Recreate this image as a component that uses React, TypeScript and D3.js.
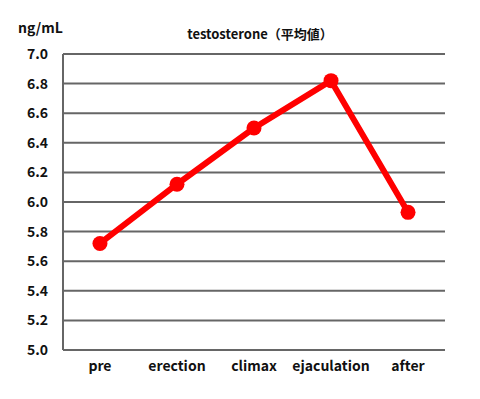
import React, { useEffect, useRef } from "react";
import * as d3 from "d3";

const categories = ["pre", "erection", "climax", "ejaculation", "after"];
const values = [5.72, 6.12, 6.5, 6.82, 5.93];
const yTicks = [5.0, 5.2, 5.4, 5.6, 5.8, 6.0, 6.2, 6.4, 6.6, 6.8, 7.0];

const width = 480;
const height = 399;
const margin = { top: 54, right: 35, bottom: 49, left: 63 };
const font = "'Noto Sans CJK JP', 'Noto Sans', sans-serif";

const App = () => {
  const svgRef = useRef<SVGSVGElement>(null);

  useEffect(() => {
    const svg = d3.select(svgRef.current);
    svg.selectAll("*").remove();

    const x = d3
      .scalePoint()
      .domain(categories)
      .range([margin.left, width - margin.right])
      .padding(0.48);

    const y = d3
      .scaleLinear()
      .domain([5.0, 7.0])
      .range([height - margin.bottom, margin.top]);

    // grid lines
    svg
      .selectAll(".grid")
      .data(yTicks)
      .join("line")
      .attr("x1", margin.left)
      .attr("x2", width - margin.right)
      .attr("y1", (d) => y(d))
      .attr("y2", (d) => y(d))
      .attr("stroke", "#666")
      .attr("stroke-width", 2);

    // left axis
    svg
      .append("line")
      .attr("x1", margin.left)
      .attr("x2", margin.left)
      .attr("y1", y(7.0))
      .attr("y2", y(5.0))
      .attr("stroke", "#666")
      .attr("stroke-width", 2);

    // y labels
    svg
      .selectAll(".ylab")
      .data(yTicks)
      .join("text")
      .attr("x", 48)
      .attr("y", (d) => y(d))
      .attr("dy", "0.36em")
      .attr("text-anchor", "end")
      .attr("font-family", font)
      .attr("font-weight", "bold")
      .attr("font-size", 14)
      .attr("fill", "#111")
      .text((d) => d.toFixed(1));

    // x labels
    svg
      .selectAll(".xlab")
      .data(categories)
      .join("text")
      .attr("x", (d) => x(d)!)
      .attr("y", 371)
      .attr("text-anchor", "middle")
      .attr("font-family", font)
      .attr("font-weight", "bold")
      .attr("font-size", 14)
      .attr("fill", "#111")
      .text((d) => d);

    // line
    const line = d3
      .line<number>()
      .x((_, i) => x(categories[i])!)
      .y((d) => y(d));

    svg
      .append("path")
      .datum(values)
      .attr("d", line)
      .attr("fill", "none")
      .attr("stroke", "#ff0000")
      .attr("stroke-width", 6)
      .attr("stroke-linejoin", "round");

    svg
      .selectAll(".pt")
      .data(values)
      .join("circle")
      .attr("cx", (_, i) => x(categories[i])!)
      .attr("cy", (d) => y(d))
      .attr("r", 7.5)
      .attr("fill", "#ff0000");

    // unit + title
    svg
      .append("text")
      .attr("x", 18)
      .attr("y", 33)
      .attr("font-family", font)
      .attr("font-weight", "bold")
      .attr("font-size", 14)
      .attr("fill", "#111")
      .text("ng/mL");

    svg
      .append("text")
      .attr("x", 260)
      .attr("y", 39)
      .attr("text-anchor", "middle")
      .attr("font-family", font)
      .attr("font-weight", "bold")
      .attr("font-size", 13)
      .attr("fill", "#111")
      .text("testosterone（平均値）");
  }, []);

  return (
    <svg
      ref={svgRef}
      width={width}
      height={height}
      style={{ position: "absolute", left: 0, top: 0, background: "#fff" }}
    />
  );
};

export default App;
